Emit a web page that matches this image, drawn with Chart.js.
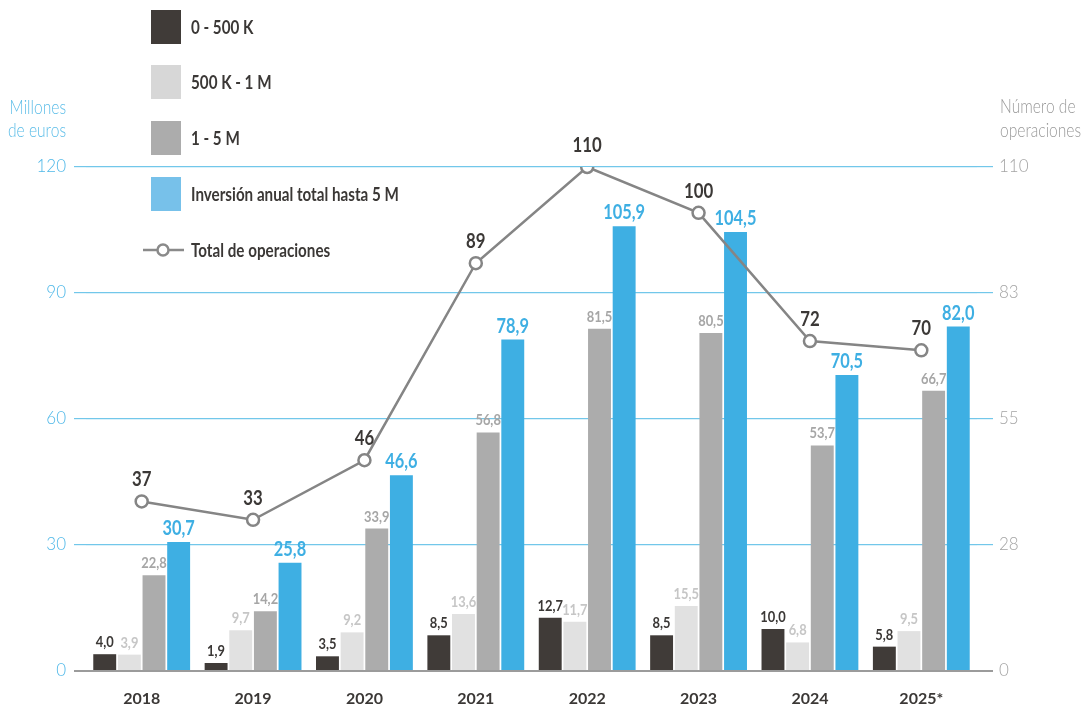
<!DOCTYPE html>
<html>
<head>
<meta charset="utf-8">
<script src="https://cdn.jsdelivr.net/npm/chart.js@4"></script>
<style>
  html, body { margin: 0; padding: 0; background: #fff; }
  #wrap { width: 1086px; height: 708px; position: relative; }
</style>
</head>
<body>
<div id="wrap"><canvas id="chart" width="1086" height="708"></canvas></div>
<script>
// chart values
var years = ['2018', '2019', '2020', '2021', '2022', '2023', '2024', '2025*'];
var upTo500k = [4.0, 1.9, 3.5, 8.5, 12.7, 8.5, 10.0, 5.8];
var from500kTo1M = [3.9, 9.7, 9.2, 13.6, 11.7, 15.5, 6.8, 9.5];
var from1To5M = [22.8, 14.2, 33.9, 56.8, 81.5, 80.5, 53.7, 66.7];
var totalInvestment = [30.7, 25.8, 46.6, 78.9, 105.9, 104.5, 70.5, 82.0];
var operations = [37, 33, 46, 89, 110, 100, 72, 70];
var leftTicks = [0, 30, 60, 90, 120];
var rightTicks = [0, 27.5, 55, 82.5, 110];

var FONT = 'Lato, "Open Sans", sans-serif';
var BLUE = '#3eafe3';
var GRID = '#72c7ea';
var ZERO = '#9b9b9b';
var DARK = '#3b3836';

function fmt(v) {
    return v.toFixed(1).replace('.', ',');
}

// the original typeface is condensed, so squeeze text horizontally
function narrowText(ctx, text, x, y, sx, align) {
    ctx.save();
    ctx.translate(x, y);
    ctx.scale(sx, 1);
    ctx.textAlign = align;
    ctx.fillText(text, 0, 0);
    ctx.restore();
}

// value labels above bars and line points
var valueLabels = {
    id: 'valueLabels',
    afterDatasetsDraw(chart) {
        const ctx = chart.ctx;
        ctx.save();
        ctx.textBaseline = 'alphabetic';
        chart.data.datasets.forEach((ds, i) => {
            const meta = chart.getDatasetMeta(i);
            meta.data.forEach((el, j) => {
                if (ds.type === 'line') {
                    ctx.font = 'bold 21px ' + FONT;
                    ctx.fillStyle = DARK;
                    narrowText(ctx, String(ds.data[j]), el.x, el.y - 15, 0.8, 'center');
                } else {
                    ctx.font = (ds.bigLabel ? 'bold 20px ' : 'bold 15px ') + FONT;
                    ctx.fillStyle = ds.labelColor;
                    narrowText(ctx, fmt(ds.data[j]), el.x, el.y - 7, ds.bigLabel ? 0.82 : 0.86, 'center');
                }
            });
        });
        ctx.restore();
    }
};

// legend and axis titles
var decorations = {
    id: 'decorations',
    afterDraw(chart) {
        const ctx = chart.ctx;
        ctx.save();
        const items = [
            { color: '#403b38', text: '0 - 500 K', y: 10 },
            { color: '#d7d7d7', text: '500 K - 1 M', y: 65 },
            { color: '#acacac', text: '1 - 5 M', y: 121 },
            { color: '#77c1ea', text: 'Inversión anual total hasta 5 M', y: 177 }
        ];
        ctx.textBaseline = 'middle';
        items.forEach(it => {
            ctx.fillStyle = it.color;
            ctx.fillRect(151, it.y, 30, 34);
            ctx.fillStyle = DARK;
            ctx.font = 'bold 19px ' + FONT;
            narrowText(ctx, it.text, 191, it.y + 18, 0.8, 'left');
        });
        // line legend
        ctx.strokeStyle = '#8a8a8a';
        ctx.lineWidth = 2.5;
        ctx.beginPath();
        ctx.moveTo(143, 250);
        ctx.lineTo(184, 250);
        ctx.stroke();
        ctx.beginPath();
        ctx.arc(163, 250, 5.5, 0, Math.PI * 2);
        ctx.fillStyle = '#fff';
        ctx.fill();
        ctx.stroke();
        ctx.fillStyle = DARK;
        narrowText(ctx, 'Total de operaciones', 191, 251, 0.8, 'left');

        // axis titles
        ctx.font = '300 19px ' + FONT;
        ctx.fillStyle = '#5cbde8';
        narrowText(ctx, 'Millones', 66, 108, 0.82, 'right');
        narrowText(ctx, 'de euros', 66, 131, 0.82, 'right');
        ctx.fillStyle = '#9a9a9a';
        narrowText(ctx, 'Número de', 1000, 107, 0.82, 'left');
        narrowText(ctx, 'operaciones', 1000, 131, 0.82, 'left');
        ctx.restore();
    }
};

function barSet(label, data, color, labelColor, big) {
    return {
        type: 'bar',
        label: label,
        data: data,
        backgroundColor: color,
        labelColor: labelColor,
        bigLabel: big,
        yAxisID: 'y',
        categoryPercentage: 0.885,
        barPercentage: 0.93,
        order: 2
    };
}

var ctx = document.getElementById('chart').getContext('2d');
var chart = new Chart(ctx, {
    data: {
        labels: years,
        datasets: [
            {
                type: 'line',
                label: 'Total de operaciones',
                data: operations,
                yAxisID: 'y2',
                borderColor: '#858585',
                borderWidth: 2.5,
                pointRadius: 6,
                pointBorderWidth: 2.5,
                pointBackgroundColor: '#fff',
                pointBorderColor: '#858585',
                tension: 0,
                order: 1
            },
            barSet('0 - 500 K', upTo500k, '#403b38', DARK, false),
            barSet('500 K - 1 M', from500kTo1M, '#e1e1e1', '#c6c6c6', false),
            barSet('1 - 5 M', from1To5M, '#acacac', '#a6a6a6', false),
            barSet('Inversión anual total hasta 5 M', totalInvestment, BLUE, BLUE, true)
        ]
    },
    options: {
        responsive: false,
        animation: false,
        layout: { padding: { top: 167, left: 0, right: 0, bottom: 0 } },
        plugins: {
            legend: { display: false },
            tooltip: { enabled: false }
        },
        scales: {
            x: {
                grid: { display: false },
                border: { display: false },
                ticks: {
                    padding: 10,
                    color: DARK,
                    font: { family: FONT, size: 16, weight: 'bold' }
                },
                afterFit(scale) { scale.height = 37; }
            },
            y: {
                position: 'left',
                min: 0,
                max: 120,
                afterBuildTicks(scale) { scale.ticks = leftTicks.map(v => ({ value: v })); },
                grid: {
                    color: c => (c.tick && c.tick.value === 0 ? ZERO : GRID),
                    lineWidth: c => (c.tick && c.tick.value === 0 ? 2 : 1.2),
                    tickLength: 12
                },
                border: { display: false },
                ticks: {
                    padding: 8,
                    color: '#4fb8e8',
                    font: { family: FONT, size: 17, weight: '300' }
                },
                afterFit(scale) { scale.width = 86; }
            },
            y2: {
                position: 'right',
                min: 0,
                max: 110,
                afterBuildTicks(scale) { scale.ticks = rightTicks.map(v => ({ value: v })); },
                grid: {
                    drawOnChartArea: false,
                    color: c => (c.tick && c.tick.value === 0 ? ZERO : GRID),
                    lineWidth: c => (c.tick && c.tick.value === 0 ? 2 : 1.2),
                    tickLength: 16
                },
                border: { display: false },
                ticks: {
                    padding: 6,
                    color: '#a4a4a4',
                    font: { family: FONT, size: 17, weight: '300' },
                    callback: v => Math.round(v)
                },
                afterFit(scale) { scale.width = 109; }
            }
        }
    },
    plugins: [valueLabels, decorations]
});
</script>
</body>
</html>
